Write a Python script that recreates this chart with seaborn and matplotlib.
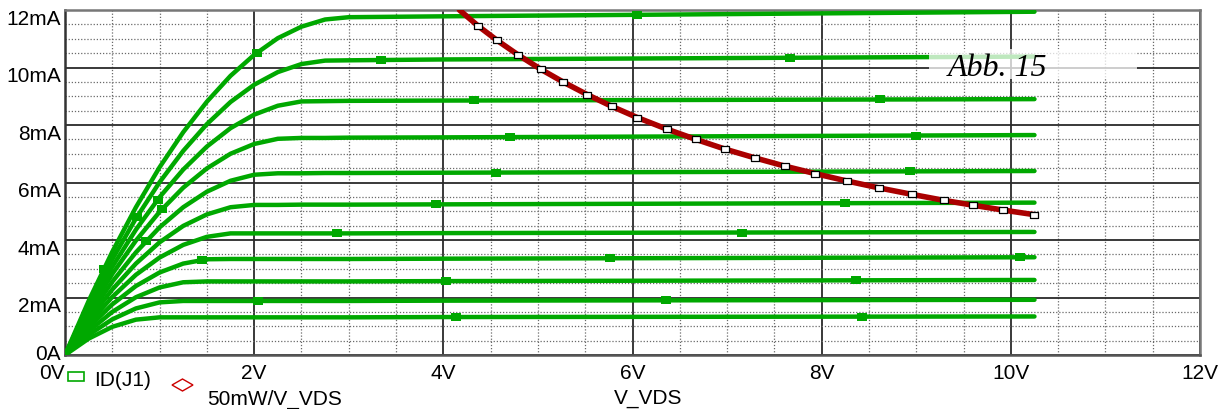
import numpy as np
import pandas as pd
import matplotlib
matplotlib.use("Agg")
import matplotlib.pyplot as plt
import seaborn as sns
from matplotlib.patches import Rectangle, Polygon
from matplotlib.path import Path
from matplotlib.ticker import MultipleLocator, FixedLocator

# ---------------- data ----------------
vds = [0, 0.25, 0.5, 0.75, 1.0, 1.25, 1.5, 1.75, 2.0, 2.25, 2.5, 2.75, 3.0, 4.0, 10.25]

id_c1 = [0, 1.88, 3.59, 5.14, 6.53, 7.75, 8.81, 9.71, 10.44, 11.02, 11.42, 11.67, 11.75, 11.78, 11.94]
id_c2 = [0, 1.75, 3.33, 4.75, 6.01, 7.10, 8.03, 8.80, 9.40, 9.84, 10.12, 10.24, 10.25, 10.28, 10.38]
id_c3 = [0, 1.62, 3.07, 4.36, 5.49, 6.45, 7.25, 7.89, 8.36, 8.67, 8.82, 8.83, 8.84, 8.85, 8.90]
id_c4 = [0, 1.49, 2.82, 3.98, 4.98, 5.82, 6.49, 7.00, 7.34, 7.52, 7.55, 7.55, 7.56, 7.57, 7.65]
id_c5 = [0, 1.36, 2.55, 3.57, 4.44, 5.14, 5.68, 6.06, 6.27, 6.32, 6.32, 6.33, 6.33, 6.34, 6.40]
id_c6 = [0, 1.22, 2.28, 3.18, 3.92, 4.49, 4.89, 5.14, 5.22, 5.22, 5.23, 5.23, 5.23, 5.24, 5.30]
id_c7 = [0, 1.09, 2.02, 2.79, 3.39, 3.83, 4.11, 4.23, 4.23, 4.23, 4.23, 4.23, 4.23, 4.24, 4.28]
id_c8 = [0, 0.96, 1.76, 2.40, 2.87, 3.18, 3.33, 3.34, 3.34, 3.34, 3.34, 3.34, 3.34, 3.35, 3.40]
id_c9 = [0, 0.83, 1.50, 2.01, 2.35, 2.53, 2.56, 2.56, 2.56, 2.56, 2.56, 2.56, 2.56, 2.57, 2.61]
id_c10 = [0, 0.70, 1.24, 1.62, 1.83, 1.88, 1.88, 1.88, 1.88, 1.88, 1.88, 1.88, 1.88, 1.89, 1.92]
id_c11 = [0, 0.57, 0.98, 1.23, 1.31, 1.31, 1.31, 1.31, 1.31, 1.31, 1.31, 1.31, 1.31, 1.32, 1.34]
id_curves = [id_c1, id_c2, id_c3, id_c4, id_c5, id_c6, id_c7, id_c8, id_c9, id_c10, id_c11]

# marker positions (V) on each ID curve
marker_v = [
    [0.41, 2.03, 6.05],
    [0.76, 3.34, 7.67],
    [0.98, 4.32, 8.62],
    [1.03, 4.70, 9.00],
    [0.86, 4.56, 8.93],
    [3.92, 8.25],
    [2.88, 7.16],
    [1.45, 5.76, 10.10],
    [4.03, 8.36],
    [2.04, 6.35],
    [4.13, 8.43],
]

# 50mW / V_VDS curve
p_v = [4.17, 4.37, 4.57, 4.79, 5.03, 5.27, 5.52, 5.78, 6.05, 6.36, 6.67, 6.98,
       7.29, 7.61, 7.93, 8.27, 8.61, 8.95, 9.29, 9.60, 9.92, 10.25]
p_i = [12.00, 11.44, 10.94, 10.44, 9.94, 9.49, 9.06, 8.65, 8.26, 7.86, 7.50, 7.16,
       6.86, 6.57, 6.31, 6.05, 5.81, 5.59, 5.38, 5.21, 5.04, 4.88]

x_ticks = [0, 2, 4, 6, 8, 10, 12]
x_labels = ["0V", "2V", "4V", "6V", "8V", "10V", "12V"]
y_ticks = [0, 2, 4, 6, 8, 10, 12]
y_labels = ["0A", "2mA", "4mA", "6mA", "8mA", "10mA", "12mA"]

# ---------------- style ----------------
sns.set_style("white")
plt.rcParams["font.family"] = ["Liberation Sans", "DejaVu Sans"]
plt.rcParams["text.color"] = "black"

GREEN = "#00a800"
RED = "#aa0000"

W, H = 1220, 409
fig = plt.figure(figsize=(W / 100, H / 100), dpi=100)
ax = fig.add_axes([65 / W, 1 - 355 / H, 1135 / W, 345 / H])

rows = []
for k, ys in enumerate(id_curves):
    for v, i in zip(vds, ys):
        rows.append({"V": v, "I": i, "curve": k})
df = pd.DataFrame(rows)

sns.lineplot(data=df, x="V", y="I", units="curve", estimator=None, sort=False,
             color=GREEN, lw=3.2, ax=ax, zorder=3, legend=False)


def rect_path(h):
    return Path([(-1, -h), (1, -h), (1, h), (-1, h), (-1, -h)],
                [Path.MOVETO, Path.LINETO, Path.LINETO, Path.LINETO, Path.CLOSEPOLY])


# green square markers on the curves
mrows = []
for k, vs in enumerate(marker_v):
    for v in vs:
        mrows.append({"V": v, "I": float(np.interp(v, vds, id_curves[k]))})
mdf = pd.DataFrame(mrows)
sns.scatterplot(data=mdf, x="V", y="I", marker=rect_path(0.75), s=58, color=GREEN,
                edgecolor=GREEN, linewidth=0, ax=ax, zorder=4, legend=False)

# power hyperbola
pdf = pd.DataFrame({"V": p_v, "I": p_i})
sns.lineplot(data=pdf, x="V", y="I", color=RED, lw=4.0, ax=ax, zorder=5,
             sort=False, legend=False)
sns.scatterplot(data=pdf.iloc[1:], x="V", y="I", marker=rect_path(0.62), s=40, color="white",
                edgecolor="black", linewidth=0.9, ax=ax, zorder=6, legend=False)

# axes, grid
ax.set_xlim(0, 12)
ax.set_ylim(0, 12)
ax.xaxis.set_major_locator(FixedLocator(x_ticks))
ax.yaxis.set_major_locator(FixedLocator(y_ticks))
ax.xaxis.set_minor_locator(MultipleLocator(0.5))
ax.yaxis.set_minor_locator(MultipleLocator(0.5))
xlabs = ax.set_xticklabels(x_labels, fontsize=15)
xlabs[0].set_horizontalalignment("right")
ylabs = ax.set_yticklabels(y_labels, fontsize=15)
for t in ylabs:
    t.set_verticalalignment("top")
ylabs[0].set_verticalalignment("center")

ax.set_axisbelow(True)
ax.grid(which="major", color="#2a2a2a", lw=1.3, ls="-", zorder=1)
ax.grid(which="minor", color="#6a6a6a", lw=0.9, ls=(0, (1, 1.5)), zorder=0.5)
ax.tick_params(axis="x", which="major", length=3.6, width=1.3, color="#222222",
               pad=3.0, direction="out", labelcolor="black")
ax.tick_params(axis="x", which="minor", length=0)
ax.tick_params(axis="y", which="both", length=0, pad=3, labelcolor="black")
ax.set_xlabel("")
ax.set_ylabel("")

for side, sp in ax.spines.items():
    sp.set_visible(True)
    sp.set_linewidth(1.8)
    sp.set_color("#777777")
ax.spines["left"].set_color("#333333")
ax.spines["bottom"].set_color("#555555")

# "Abb. 15" label with translucent box
fig.add_artist(Rectangle((929 / W, 1 - 79 / H), 208 / W, 30 / H,
                         transform=fig.transFigure, facecolor="white",
                         edgecolor="none", alpha=0.75, zorder=10))
fig.text(948 / W, 1 - 68 / H, "Abb. 15", family=["Liberation Serif", "DejaVu Serif"],
         style="italic", fontsize=23, ha="left", va="center", color="black", zorder=11)

# x axis title
fig.text(648 / W, 1 - 398 / H, "V_VDS", fontsize=15, ha="center", va="center")

# legend-like entries at bottom left
fig.add_artist(Rectangle((68 / W, 1 - 381 / H), 16 / W, 9 / H,
                         transform=fig.transFigure, facecolor="none",
                         edgecolor=GREEN, lw=1.2))
fig.text(94 / W, 1 - 380 / H, "ID(J1)", fontsize=15, ha="left", va="center")
cx, cy = 182.5, 385
dia = [((cx - 10.5) / W, 1 - cy / H), (cx / W, 1 - (cy - 6) / H),
       ((cx + 10.5) / W, 1 - cy / H), (cx / W, 1 - (cy + 6) / H)]
fig.add_artist(Polygon(dia, closed=True, transform=fig.transFigure,
                       facecolor="none", edgecolor="#cc0000", lw=1.0))
fig.text(207 / W, 1 - 399 / H, "50mW/V_VDS", fontsize=15, ha="left", va="center")

fig.savefig("out.png", dpi=100)
